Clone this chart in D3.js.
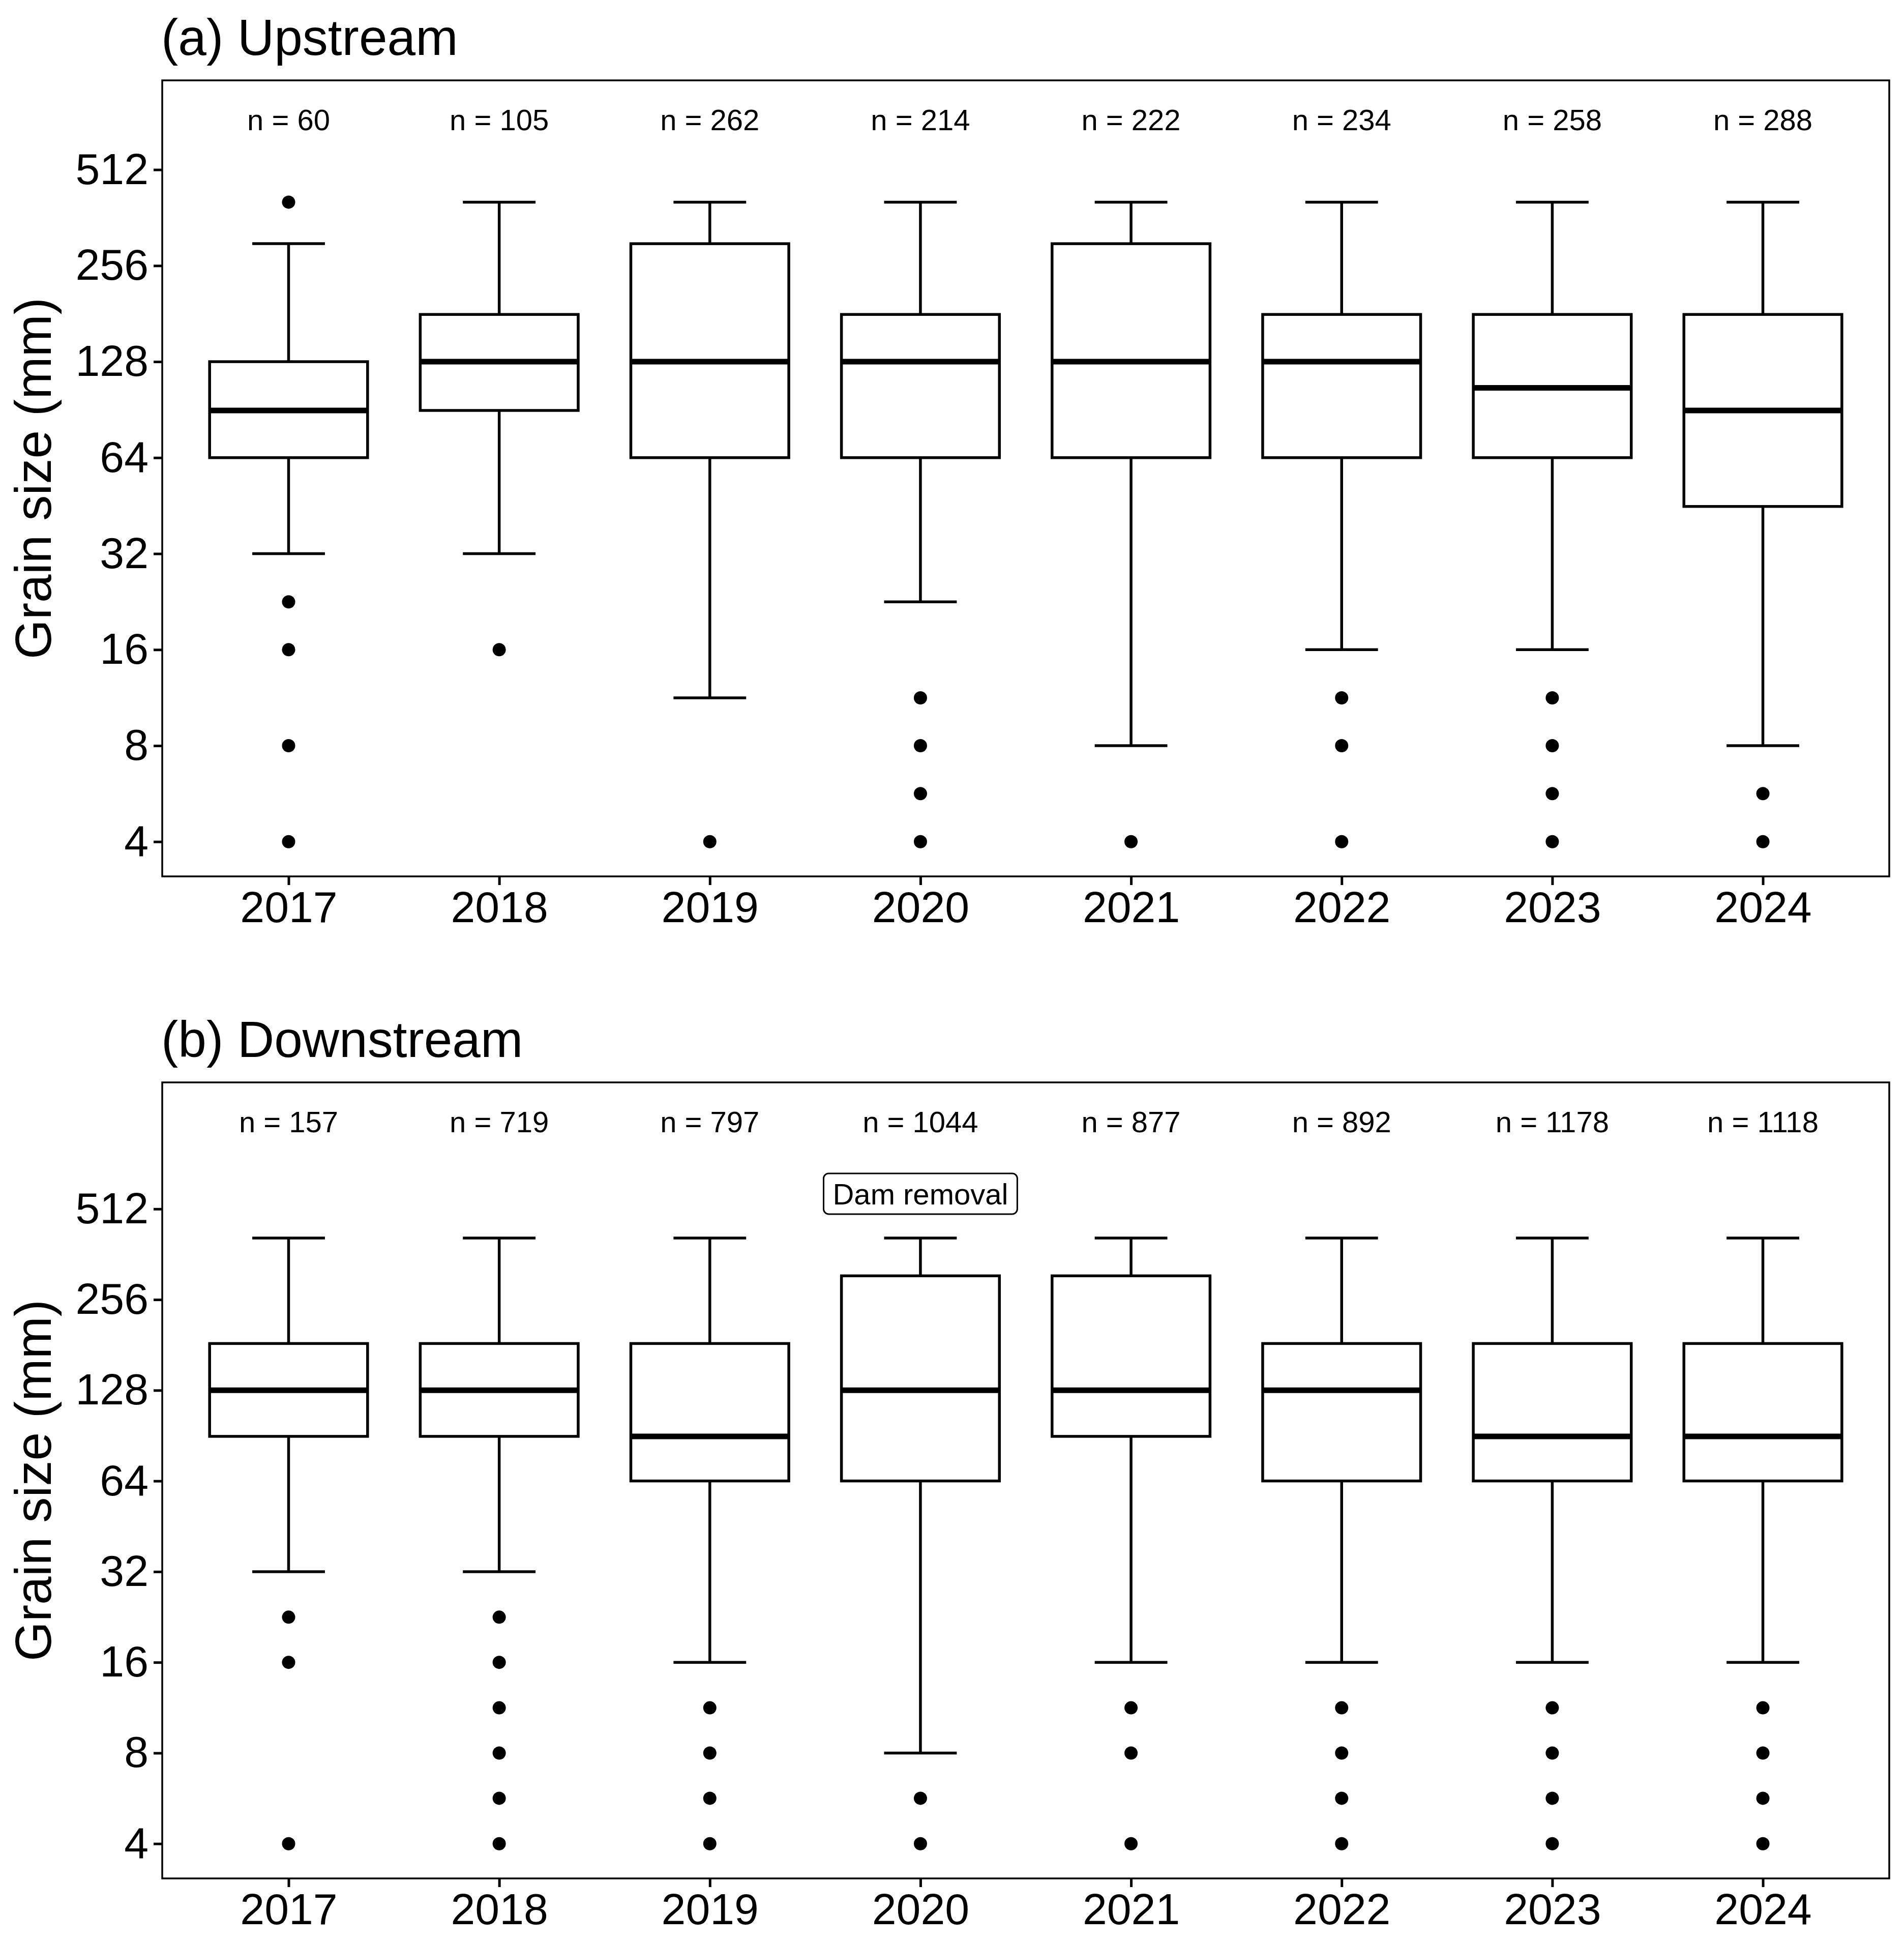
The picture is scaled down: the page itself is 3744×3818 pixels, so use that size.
<!DOCTYPE html>
<html><head><meta charset="utf-8">
<script src="https://cdn.jsdelivr.net/npm/d3@7"></script>
<style>body{margin:0;background:#fff}text{font-family:"Liberation Sans",Arial,sans-serif}</style>
</head><body>
<script>
const years = ["2017","2018","2019","2020","2021","2022","2023","2024"];
const yTicks = [4, 8, 16, 32, 64, 128, 256, 512];

// [lower whisker, Q1, median, Q3, upper whisker]
const upStats = [
  [32, 64, 90, 128, 300], [32, 90, 128, 180, 405], [11.3, 64, 128, 300, 405], [22.6, 64, 128, 180, 405],
  [8, 64, 128, 300, 405], [16, 64, 128, 180, 405], [16, 64, 106, 180, 405], [8, 45, 90, 180, 405]
];
const upOutliers = [
  [405, 22.6, 16, 8, 4], [16], [4], [11.3, 8, 5.66, 4], [4], [11.3, 8, 4], [11.3, 8, 5.66, 4], [5.66, 4]
];
const upN = [60, 105, 262, 214, 222, 234, 258, 288];

const downStats = [
  [32, 90, 128, 183, 410], [32, 90, 128, 183, 410], [16, 64, 90, 183, 410], [8, 64, 128, 307, 410],
  [16, 90, 128, 307, 410], [16, 64, 128, 183, 410], [16, 64, 90, 183, 410], [16, 64, 90, 183, 410]
];
const downOutliers = [
  [22.6, 16, 4], [22.6, 16, 11.3, 8, 5.66, 4], [11.3, 8, 5.66, 4], [5.66, 4],
  [11.3, 8, 4], [11.3, 8, 5.66, 4], [11.3, 8, 5.66, 4], [11.3, 8, 5.66, 4]
];
const downN = [157, 719, 797, 1044, 877, 892, 1178, 1118];

const W = 3744, H = 3818;
const svg = d3.select("body").append("svg").attr("width", W).attr("height", H);

function panel(title, top, bottom, domain, stats, outliers, ns, note) {
  const left = 319, right = 3715;
  const x = d3.scalePoint().domain(years).range([left, right]).padding(0.6);
  const y = d3.scaleLog().base(2).domain(domain).range([bottom, top]);
  const g = svg.append("g");
  const boxW = x.step() * 0.75, capW = boxW * 0.46;

  g.append("text").attr("x", left - 2).attr("y", top - 50).attr("font-size", 100).text(title);

  const yAxis = g.append("g").attr("transform", `translate(${left},0)`)
    .call(d3.axisLeft(y).tickValues(yTicks).tickFormat(d3.format("d")).tickSize(17).tickPadding(10));
  yAxis.select(".domain").remove();
  yAxis.selectAll("line").attr("stroke-width", 5);
  yAxis.selectAll("text").attr("font-size", 86).attr("fill", "#000").attr("font-family", "Liberation Sans");

  const xAxis = g.append("g").attr("transform", `translate(0,${bottom})`)
    .call(d3.axisBottom(x).tickSize(17).tickPadding(12));
  xAxis.select(".domain").remove();
  xAxis.selectAll("line").attr("stroke-width", 5);
  xAxis.selectAll("text").attr("font-size", 86).attr("fill", "#000").attr("font-family", "Liberation Sans");

  g.append("rect").attr("x", left).attr("y", top).attr("width", right - left).attr("height", bottom - top)
    .attr("fill", "none").attr("stroke", "#000").attr("stroke-width", 3.5);

  years.forEach((yr, i) => {
    const [lo, q1, md, q3, hi] = stats[i];
    const cx = x(yr);
    const b = g.append("g").attr("stroke", "#000").attr("stroke-width", 5.5).attr("fill", "none");
    b.append("line").attr("x1", cx).attr("x2", cx).attr("y1", y(hi)).attr("y2", y(q3));
    b.append("line").attr("x1", cx).attr("x2", cx).attr("y1", y(q1)).attr("y2", y(lo));
    b.append("line").attr("x1", cx - capW / 2).attr("x2", cx + capW / 2).attr("y1", y(hi)).attr("y2", y(hi));
    b.append("line").attr("x1", cx - capW / 2).attr("x2", cx + capW / 2).attr("y1", y(lo)).attr("y2", y(lo));
    b.append("rect").attr("x", cx - boxW / 2).attr("width", boxW).attr("y", y(q3)).attr("height", y(q1) - y(q3)).attr("fill", "#fff");
    b.append("line").attr("x1", cx - boxW / 2).attr("x2", cx + boxW / 2).attr("y1", y(md)).attr("y2", y(md)).attr("stroke-width", 11);
    g.selectAll(null).data(outliers[i]).enter().append("circle")
      .attr("cx", cx).attr("cy", d => y(d)).attr("r", 13).attr("fill", "#000");
    g.append("text").attr("x", cx).attr("y", top + 98).attr("text-anchor", "middle").attr("font-size", 58).text("n = " + ns[i]);
  });

  if (note) {
    const cx = x(note.year), cy = y(note.value);
    const nb = g.append("rect");
    const t = g.append("text").attr("x", cx).attr("y", cy + 21).attr("text-anchor", "middle").attr("font-size", 58).text(note.label);
    const bb = t.node().getBBox();
    nb.attr("x", bb.x - 18).attr("y", cy - 40).attr("width", bb.width + 36).attr("height", 80)
      .attr("rx", 10).attr("fill", "#fff").attr("stroke", "#000").attr("stroke-width", 3);
  }

  g.append("text").attr("transform", `translate(100,${(top + bottom) / 2}) rotate(-90)`)
    .attr("text-anchor", "middle").attr("font-size", 100).text("Grain size (mm)");
}

panel("(a) Upstream", 158, 1723, [4 * Math.pow(2, -28 / 77.4), 512 * Math.pow(2, 72 / 77.4)], upStats, upOutliers, upN, null);
panel("(b) Downstream", 2128, 3693, [4 * Math.pow(2, -28 / 73.1), 512 * Math.pow(2, 102 / 73.1)], downStats, downOutliers, downN,
  { year: "2020", value: 575, label: "Dam removal" });
</script>
</body></html>
